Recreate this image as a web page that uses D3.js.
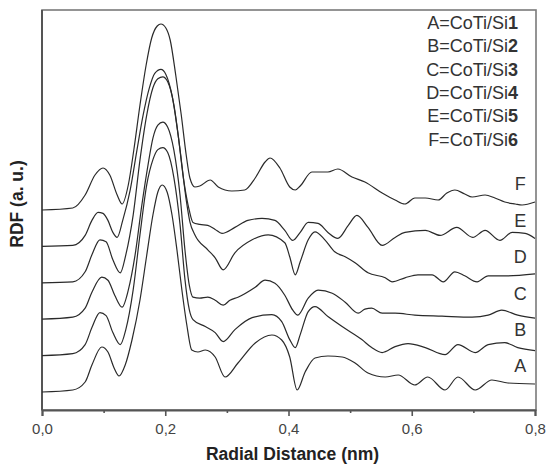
<!DOCTYPE html>
<html>
<head>
<meta charset="utf-8">
<script src="https://cdn.jsdelivr.net/npm/d3@7"></script>
<style>
  body { margin: 0; background: #fff; }
  text { font-family: "Liberation Sans", Arial, sans-serif; }
</style>
</head>
<body>
<svg id="chart" width="550" height="465"></svg>
<script>
// curve names and the legend lines
const labels = ['A', 'B', 'C', 'D', 'E', 'F']
const legendNames = ['A=CoTi/Si', 'B=CoTi/Si', 'C=CoTi/Si', 'D=CoTi/Si', 'E=CoTi/Si', 'F=CoTi/Si']
const legendNums = ['1', '2', '3', '4', '5', '6']

// vertical offset of each curve (a. u.)
const offsets = [1.8, 5.44, 9.08, 12.72, 16.36, 20.0]

const xTicks = [0, 0.2, 0.4, 0.6, 0.8]
const xMinor = [0.1, 0.3, 0.5, 0.7]

// [radial distance nm, RDF a. u.], each relative to its own offset
const curveA = [[0,0],[0.050,0.2],[0.070,1.0],[0.081,2.7],[0.097,4.5],[0.107,4.0],[0.117,2.4],[0.125,1.6],
  [0.135,2.7],[0.146,5.2],[0.159,9.2],[0.170,13.7],[0.180,17.7],[0.188,20.0],[0.195,20.7],[0.203,20.0],
  [0.211,17.7],[0.219,14.2],[0.227,10.2],[0.235,6.7],[0.243,4.2],[0.253,4.0],[0.265,4.2],[0.281,3.5],
  [0.297,1.5],[0.318,2.9],[0.346,4.9],[0.373,5.7],[0.389,5.2],[0.402,3.5],[0.414,0.2],[0.427,2.0],
  [0.443,3.4],[0.464,3.6],[0.487,3.5],[0.508,2.9],[0.529,1.9],[0.557,1.5],[0.578,1.7],[0.605,0.7],
  [0.626,1.5],[0.654,0.2],[0.675,1.5],[0.703,0.2],[0.730,1.2],[0.756,0.9],[0.800,0.8]]

const curveB = [[0,0],[0.050,0.2],[0.070,1.1],[0.081,2.8],[0.094,4.3],[0.104,4.0],[0.115,2.3],[0.127,1.1],
  [0.136,2.6],[0.148,6.6],[0.159,12.1],[0.170,17.1],[0.180,19.6],[0.188,20.6],[0.196,20.8],[0.204,20.3],
  [0.214,17.8],[0.224,13.1],[0.232,7.6],[0.239,4.6],[0.245,3.6],[0.265,2.9],[0.281,2.3],[0.294,1.4],
  [0.313,2.6],[0.341,3.8],[0.373,4.1],[0.389,3.4],[0.402,1.6],[0.411,0.8],[0.419,2.1],[0.432,4.4],
  [0.443,4.9],[0.464,3.9],[0.487,2.9],[0.519,1.6],[0.535,0.8],[0.552,0.3],[0.573,0.9],[0.594,1.2],
  [0.622,0.8],[0.654,0.1],[0.675,1.1],[0.703,0.3],[0.724,1.1],[0.751,1.3],[0.772,0.8],[0.800,0.5]]

const curveC = [[0,0],[0.050,0.2],[0.070,1.1],[0.081,2.7],[0.097,4.2],[0.107,3.9],[0.118,2.4],[0.130,1.2],
  [0.140,2.9],[0.151,6.4],[0.162,11.4],[0.172,15.4],[0.180,18.1],[0.188,19.4],[0.196,19.7],[0.204,19.2],
  [0.214,16.9],[0.224,12.4],[0.232,6.9],[0.239,3.4],[0.245,2.2],[0.256,2.1],[0.269,2.2],[0.281,1.9],
  [0.294,1.4],[0.305,1.9],[0.318,2.2],[0.346,3.2],[0.362,3.9],[0.378,3.6],[0.394,2.4],[0.407,0.9],
  [0.415,0.4],[0.432,2.1],[0.448,2.9],[0.471,2.6],[0.492,1.7],[0.513,0.6],[0.524,1.0],[0.535,1.1],
  [0.552,0.6],[0.573,0.6],[0.605,0.4],[0.649,0.3],[0.698,0.2],[0.724,0.4],[0.746,0.9],[0.772,0.4],[0.800,0.1]]

const curveD = [[0,0],[0.050,0.1],[0.070,1.1],[0.081,2.8],[0.094,4.3],[0.104,4.1],[0.115,2.3],[0.127,1.0],
  [0.136,2.8],[0.148,6.8],[0.159,12.3],[0.170,16.8],[0.180,19.5],[0.188,20.4],[0.196,20.6],[0.204,20.1],
  [0.214,17.8],[0.224,13.3],[0.234,8.3],[0.240,6.1],[0.248,4.8],[0.269,3.3],[0.281,2.5],[0.294,1.3],
  [0.313,3.0],[0.341,4.3],[0.367,4.8],[0.394,4.0],[0.402,2.6],[0.411,0.8],[0.419,2.1],[0.432,4.3],
  [0.443,5.1],[0.459,4.3],[0.475,3.1],[0.492,2.6],[0.508,2.0],[0.529,1.0],[0.557,0.5],[0.568,0.1],
  [0.589,0.5],[0.610,0.8],[0.633,0.8],[0.651,0.1],[0.670,1.1],[0.686,0.7],[0.706,0.1],[0.724,0.7],
  [0.756,0.7],[0.800,0.9]]

const curveE = [[0,0],[0.050,0.1],[0.070,1.1],[0.081,2.6],[0.091,3.4],[0.099,3.3],[0.107,2.6],[0.115,1.4],
  [0.122,0.9],[0.131,2.6],[0.143,5.6],[0.154,9.6],[0.164,13.1],[0.174,15.8],[0.183,17.3],[0.193,17.7],
  [0.201,17.2],[0.211,15.1],[0.221,11.1],[0.230,6.6],[0.239,3.6],[0.245,2.4],[0.256,2.2],[0.269,2.1],
  [0.281,1.7],[0.292,1.3],[0.313,1.9],[0.334,2.6],[0.357,2.8],[0.378,2.6],[0.394,1.6],[0.407,0.6],
  [0.419,1.4],[0.432,2.4],[0.448,2.3],[0.464,1.4],[0.480,0.8],[0.497,2.1],[0.511,3.1],[0.529,1.9],
  [0.552,0.1],[0.573,0.9],[0.589,1.4],[0.622,1.6],[0.646,1.1],[0.673,1.9],[0.699,0.9],[0.719,1.6],
  [0.743,0.6],[0.763,1.4],[0.784,1.3],[0.800,0.8]]

const curveF = [[0,0],[0.050,0.2],[0.070,1.5],[0.086,3.5],[0.099,4.2],[0.110,3.5],[0.122,1.5],[0.130,0.6],
  [0.140,2.5],[0.149,6.0],[0.159,10.5],[0.169,14.5],[0.178,17.2],[0.187,18.4],[0.193,18.6],[0.201,18.2],
  [0.208,17.0],[0.217,13.5],[0.226,9.5],[0.234,5.5],[0.240,3.2],[0.248,2.3],[0.256,2.4],[0.273,3.0],
  [0.286,2.3],[0.308,1.9],[0.329,2.0],[0.346,3.2],[0.362,4.8],[0.370,5.2],[0.386,4.2],[0.402,2.3],
  [0.411,2.0],[0.419,2.4],[0.438,3.8],[0.464,3.8],[0.480,4.1],[0.503,3.3],[0.524,2.8],[0.552,1.7],
  [0.573,1.0],[0.589,0.6],[0.605,1.2],[0.622,1.2],[0.643,1.0],[0.657,1.7],[0.670,2.0],[0.686,1.6],
  [0.698,1.3],[0.719,1.5],[0.735,1.2],[0.751,0.8],[0.768,0.6],[0.779,0.5],[0.800,0.8]]

const curves = [curveA, curveB, curveC, curveD, curveE, curveF]

const plotLeft = 42, plotRight = 535, plotTop = 10, plotBottom = 410
const svg = d3.select('#chart')

var xScale = d3.scaleLinear().domain([0, 0.8]).range([plotLeft, plotRight])
var yScale = d3.scaleLinear().domain([0, 40]).range([plotBottom, plotTop])

const comma = d3.formatLocale({ decimal: ',', thousands: '.', grouping: [3], currency: ['', ''] }).format('.1f')

// frame
svg.append('rect')
    .attr('x', plotLeft).attr('y', plotTop)
    .attr('width', plotRight - plotLeft + 1).attr('height', plotBottom - plotTop)
    .attr('fill', 'none').attr('stroke', '#7a7a7a').attr('stroke-width', 1.6)

// bottom axis: major ticks with labels, minor ticks without
var xAxis = d3.axisBottom(xScale).tickValues(xTicks).tickSize(6).tickPadding(7).tickFormat(comma)
var gx = svg.append('g').attr('transform', `translate(0,${plotBottom})`).call(xAxis)
gx.select('.domain').attr('stroke', '#555').attr('stroke-width', 2)
gx.selectAll('.tick line').attr('stroke', '#555').attr('stroke-width', 1.6)
gx.selectAll('.tick text').attr('fill', '#444').style('font-size', '15px')
    .style('font-family', '"Liberation Sans", Arial, sans-serif')

var xAxisMinor = d3.axisBottom(xScale).tickValues(xMinor).tickSize(3).tickFormat('')
var gm = svg.append('g').attr('transform', `translate(0,${plotBottom})`).call(xAxisMinor)
gm.select('.domain').remove()
gm.selectAll('.tick line').attr('stroke', '#555').attr('stroke-width', 1.6)

// left axis line (no ticks)
svg.append('line')
    .attr('x1', plotLeft).attr('x2', plotLeft).attr('y1', plotTop).attr('y2', plotBottom)
    .attr('stroke', '#555').attr('stroke-width', 2)

// curves
var line = d3.line()
    .x(d => xScale(d[0]))
    .y(d => yScale(d[1]))
    .curve(d3.curveMonotoneX)

svg.selectAll('path.rdf')
    .data(curves)
    .enter()
    .append('path')
    .attr('class', 'rdf')
    .attr('d', (c, i) => line(c.map(p => [p[0], p[1] + offsets[i]])))
    .attr('fill', 'none')
    .attr('stroke', '#2a2a2a')
    .attr('stroke-width', 1.2)

// curve letters at the right
svg.selectAll('text.curveLabel')
    .data(labels)
    .enter()
    .append('text')
    .attr('class', 'curveLabel')
    .attr('x', xScale(0.776))
    .attr('y', (d, i) => yScale(offsets[i] + 2.6))
    .attr('dy', '0.36em')
    .attr('text-anchor', 'middle')
    .style('font-size', '18px')
    .attr('fill', '#333')
    .text(d => d)

// legend text, top right
var legend = svg.selectAll('text.legend')
    .data(legendNames)
    .enter()
    .append('text')
    .attr('class', 'legend')
    .attr('x', 518)
    .attr('y', (d, i) => 29 + i * 23.3)
    .attr('text-anchor', 'end')
    .style('font-size', '18px')
    .attr('fill', '#333')
legend.append('tspan').text(d => d)
legend.append('tspan').style('font-weight', 'bold').text((d, i) => legendNums[i])

// axis titles
svg.append('text')
    .attr('x', (plotLeft + plotRight) / 2 + 4)
    .attr('y', 460)
    .attr('text-anchor', 'middle')
    .style('font-size', '17.5px')
    .style('font-weight', 'bold')
    .attr('fill', '#222')
    .text('Radial Distance (nm)')

svg.append('text')
    .attr('transform', 'translate(23,204) rotate(-90)')
    .attr('text-anchor', 'middle')
    .style('font-size', '17.5px')
    .style('font-weight', 'bold')
    .attr('fill', '#222')
    .text('RDF (a. u.)')
</script>
</body>
</html>
